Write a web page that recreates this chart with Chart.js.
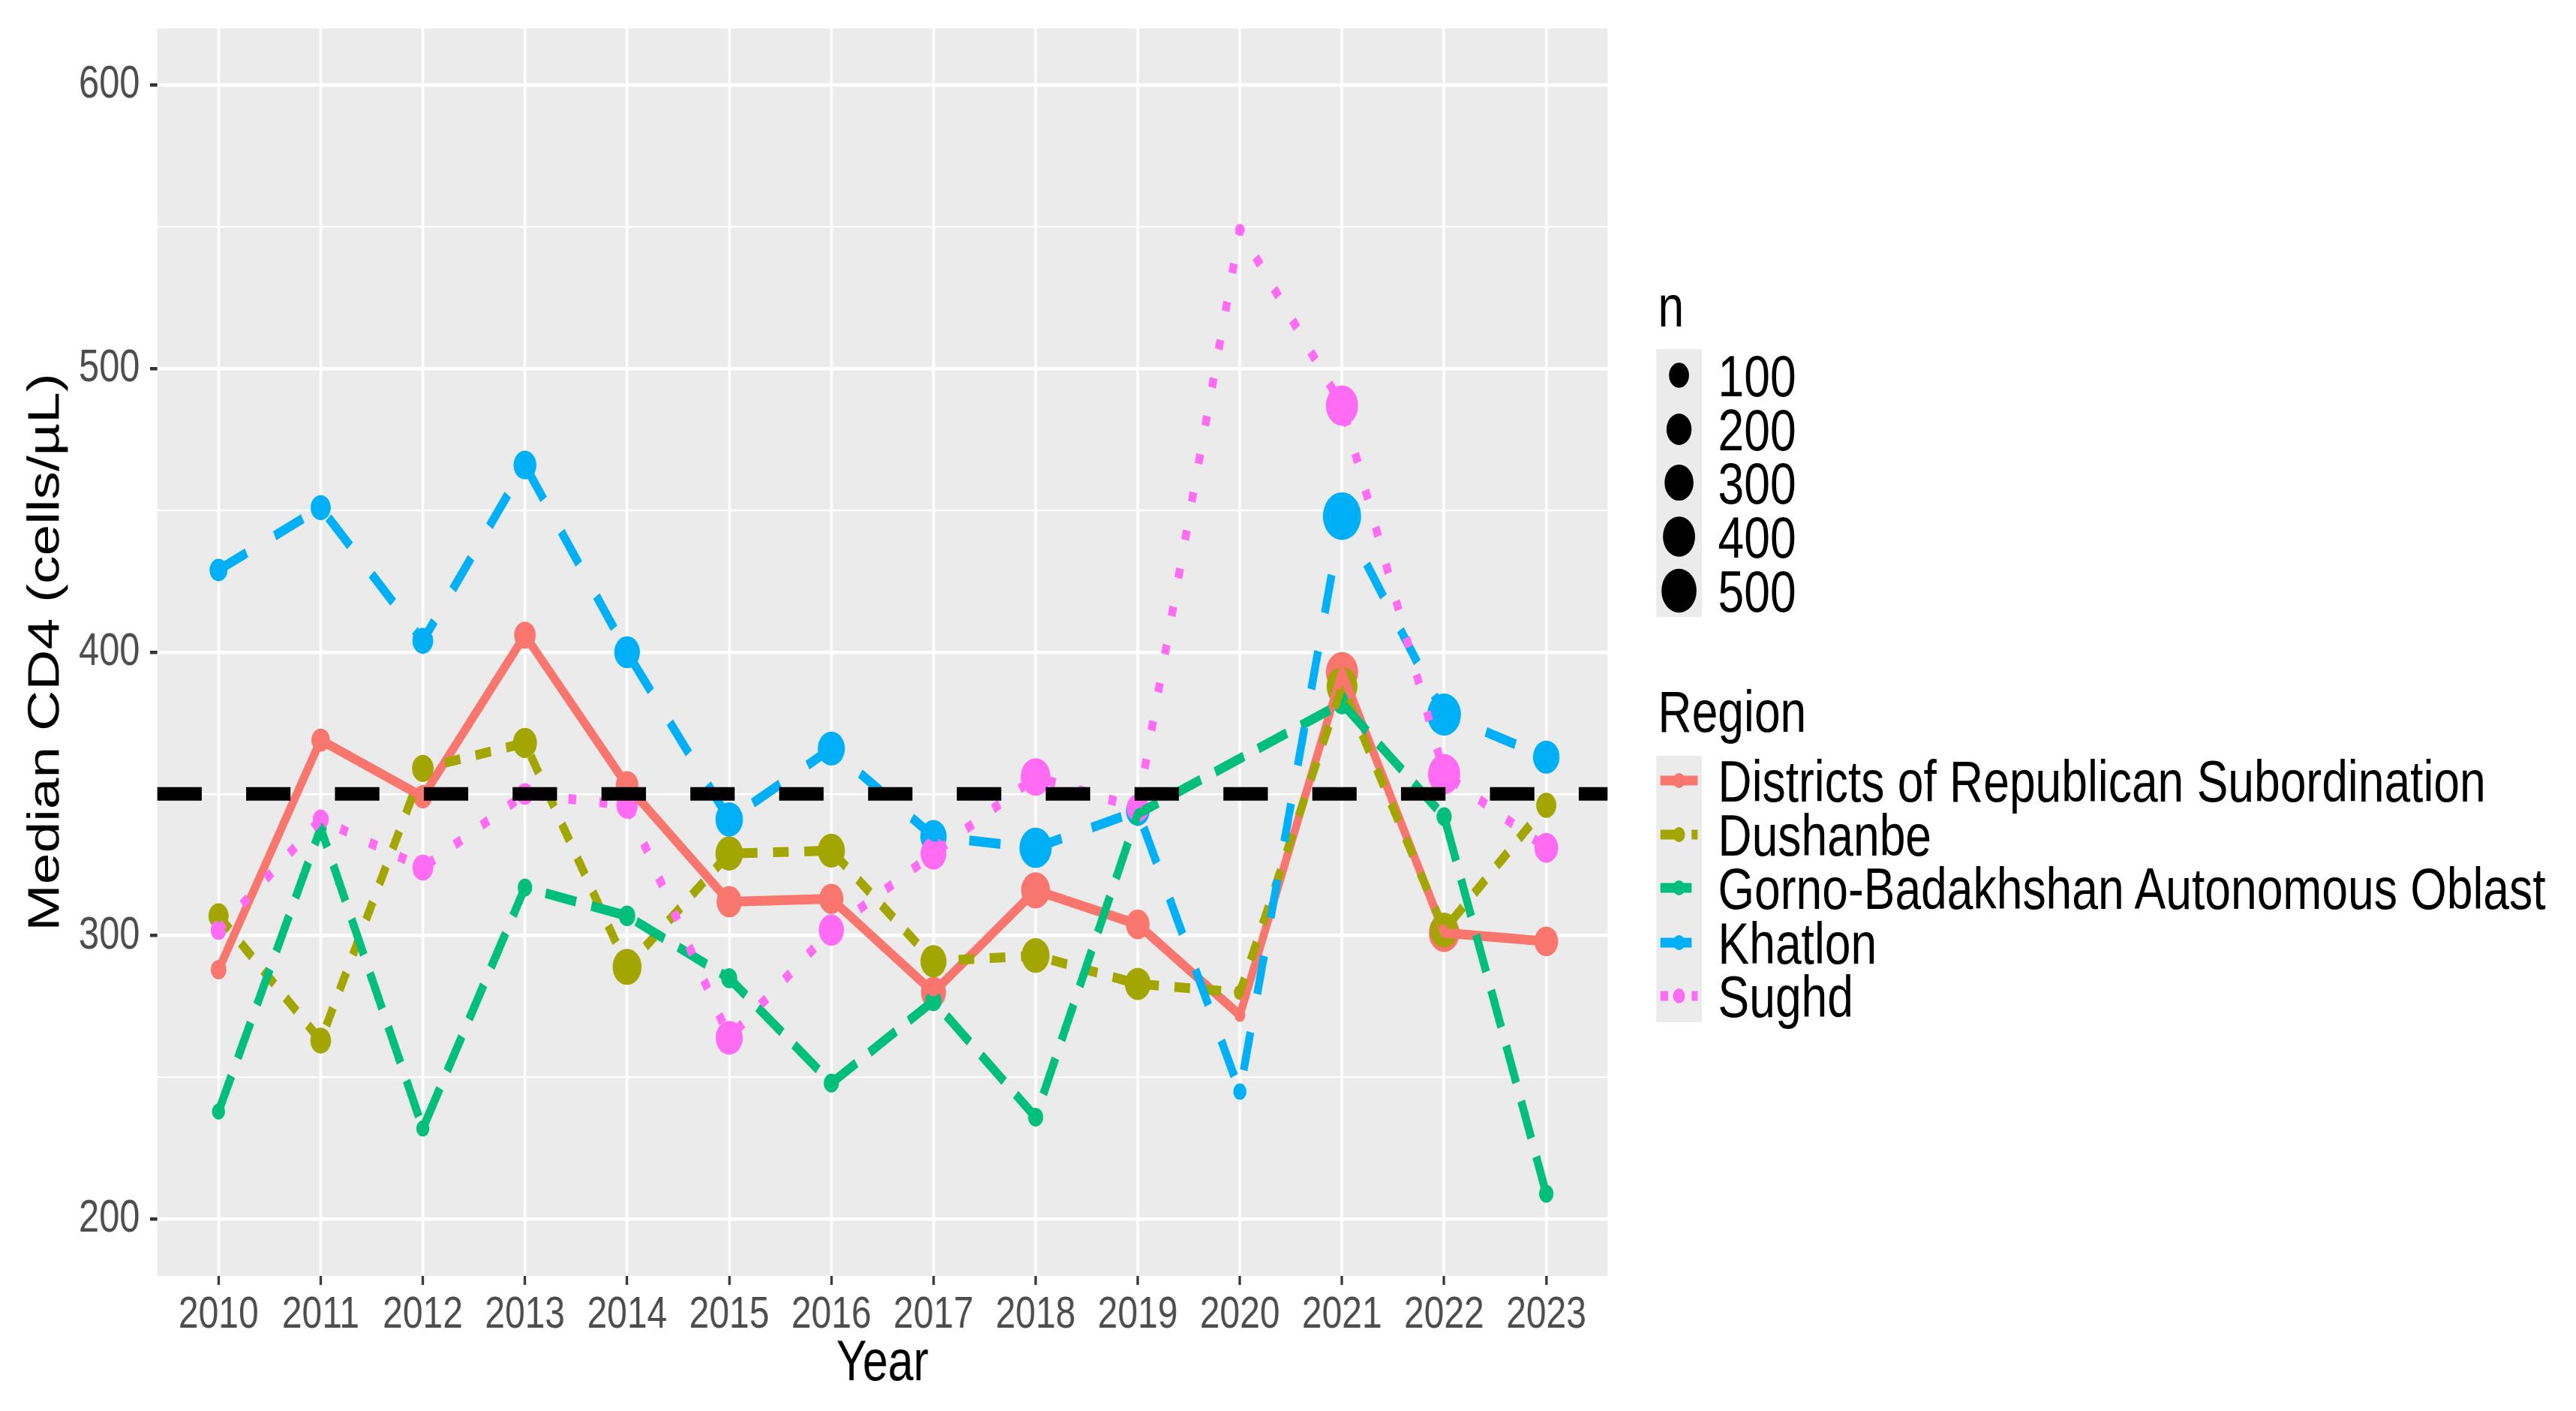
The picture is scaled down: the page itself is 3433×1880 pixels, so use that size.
<!DOCTYPE html>
<html>
<head>
<meta charset="utf-8">
<script src="https://cdn.jsdelivr.net/npm/chart.js@4.4.1/dist/chart.umd.min.js"></script>
<style>
  html, body { margin: 0; padding: 0; background: #fff; overflow: hidden; }
  /* the reference figure is horizontally squeezed, so draw wide and squeeze */
  #stage { position: absolute; left: 0; top: 0; width: 4291px; height: 1880px;
           transform: scaleX(0.8); transform-origin: 0 0; }
  #plot { position: absolute; left: 0; top: 0; }
  #legend { position: absolute; left: 0; top: 0; }
</style>
</head>
<body>
<div id="stage">
  <canvas id="plot" width="2700" height="1880"></canvas>
  <svg id="legend" width="4291" height="1880" xmlns="http://www.w3.org/2000/svg"></svg>
</div>
<script>
// data
const years = [2010, 2011, 2012, 2013, 2014, 2015, 2016, 2017, 2018, 2019, 2020, 2021, 2022, 2023];
const regions = ['Districts of Republican Subordination', 'Dushanbe', 'Gorno-Badakhshan Autonomous Oblast', 'Khatlon', 'Sughd'];

// median CD4 (cells/µL)
const districtsCD4 = [288, 369, 349, 406, 353, 312, 313, 280, 316, 304, 272, 393, 301, 298];
const dushanbeCD4  = [307, 263, 359, 368, 289, 329, 330, 291, 293, 283, 280, 388, 302, 346];
const gbaoCD4      = [238, 338, 232, 317, 307, 285, 248, 277, 236, 343, null, 382, 342, 209];
const khatlonCD4   = [429, 451, 404, 466, 400, 341, 366, 335, 331, 344, 245, 448, 378, 363];
const sughdCD4     = [302, 341, 324, 350, 346, 264, 302, 329, 356, 345, 549, 487, 357, 331];

// n (number of patients), shown as point size
const districtsN = [40, 76, 78, 128, 150, 200, 180, 200, 300, 170, 6, 400, 350, 170];
const dushanbeN  = [100, 110, 128, 177, 300, 260, 250, 220, 270, 216, 12, 355, 270, 100];
const gbaoN      = [17, 12, 17, 28, 50, 45, 35, 50, 35, 35, null, 68, 35, 28];
const khatlonN   = [68, 100, 112, 153, 213, 260, 250, 230, 400, 170, 18, 620, 450, 234];
const sughdN     = [42, 45, 112, 58, 125, 250, 200, 216, 330, 140, 2, 400, 400, 170];

const sizeBreaks = [100, 200, 300, 400, 500];
const threshold = 350;

// styles
const colors = ['#F8766D', '#A3A500', '#00BF7D', '#00B0F6', '#FF6BF3'];
const dashes = [[], [26, 26], [52, 26], [52, 52], [13, 39]];
const FONT = "'Liberation Sans', Arial, Helvetica, sans-serif";
const sizeOf = n => 6.6 + 1.01 * Math.sqrt(n);

const series = [districtsCD4, dushanbeCD4, gbaoCD4, khatlonCD4, sughdCD4];
const counts = [districtsN, dushanbeN, gbaoN, khatlonN, sughdN];
const toXY = vals => years.map((yr, i) => ({ x: yr, y: vals[i] }));

const datasets = [];
series.forEach((vals, i) => {
  // points first (underneath), red at bottom, pink on top
  datasets.push({
    label: regions[i] + ' n',
    data: toXY(vals),
    showLine: false,
    pointRadius: ctx => sizeOf(counts[i][ctx.dataIndex] || 0),
    pointHoverRadius: ctx => sizeOf(counts[i][ctx.dataIndex] || 0),
    pointBackgroundColor: colors[i],
    pointBorderWidth: 0,
    order: 19 - i
  });
  datasets.push({
    label: regions[i],
    data: toXY(vals),
    borderColor: colors[i],
    borderWidth: 13,
    borderDash: dashes[i],
    borderJoinStyle: 'round',
    pointRadius: 0,
    pointHoverRadius: 0,
    spanGaps: true,
    fill: false,
    order: 9 - i
  });
});

const panelBg = {
  id: 'panelBg',
  beforeDraw(chart) {
    const { ctx, chartArea: a } = chart;
    ctx.save();
    ctx.fillStyle = '#ebebeb';
    ctx.fillRect(a.left, a.top, a.right - a.left, a.bottom - a.top);
    ctx.restore();
  }
};

const refLine = {
  id: 'refLine',
  afterDatasetsDraw(chart) {
    const { ctx, chartArea: a, scales } = chart;
    const yy = scales.y.getPixelForValue(threshold);
    ctx.save();
    ctx.strokeStyle = '#000';
    ctx.lineWidth = 18;
    ctx.setLineDash([74, 74]);
    ctx.beginPath();
    ctx.moveTo(a.left, yy);
    ctx.lineTo(a.right, yy);
    ctx.stroke();
    ctx.restore();
  }
};

Chart.defaults.font.family = FONT;

new Chart(document.getElementById('plot'), {
  type: 'line',
  data: { datasets },
  options: {
    responsive: false,
    animation: false,
    devicePixelRatio: 1,
    events: [],
    layout: { padding: { top: 38, right: 15, left: 0, bottom: 0 } },
    plugins: { legend: { display: false }, tooltip: { enabled: false } },
    scales: {
      x: {
        type: 'linear',
        min: 2009.4,
        max: 2023.6,
        afterFit: s => { s.height = 180; s.paddingLeft = 0; s.paddingRight = 0; },
        border: { display: false },
        grid: { color: '#ffffff', lineWidth: 4.5, tickLength: 12, tickWidth: 4, tickColor: '#333333' },
        ticks: {
          stepSize: 1, includeBounds: false, maxTicksLimit: 30, autoSkip: false, maxRotation: 0,
          padding: 4, color: '#4d4d4d', font: { size: 60 },
          callback: v => String(v)
        },
        title: { display: true, text: 'Year', color: '#000', font: { size: 76 }, padding: { top: 0, bottom: 16 } }
      },
      y: {
        type: 'linear',
        min: 180,
        max: 620,
        afterFit: s => { s.width = 262; s.paddingTop = 0; s.paddingBottom = 0; },
        border: { display: false },
        grid: {
          color: '#ffffff',
          lineWidth: ctx => (ctx.tick && ctx.tick.value % 100 === 0 ? 4.5 : 2.3),
          tickLength: 12,
          tickWidth: 4.5,
          tickColor: ctx => (ctx.tick && ctx.tick.value % 100 === 0 ? '#333333' : 'rgba(0,0,0,0)')
        },
        ticks: {
          stepSize: 50, includeBounds: false, maxTicksLimit: 20,
          padding: 17, color: '#4d4d4d', font: { size: 61 },
          callback: v => (v % 100 === 0 ? String(v) : '')
        },
        title: { display: true, text: 'Median CD4 (cells/µL)', color: '#000', font: { size: 75 }, padding: { top: 32, bottom: 0 } }
      }
    }
  },
  plugins: [panelBg, refLine]
});

// legends (drawn in svg, same squeezed stage)
const svg = document.getElementById('legend');
const NS = 'http://www.w3.org/2000/svg';
function add(tag, attrs, text) {
  const e = document.createElementNS(NS, tag);
  for (const k in attrs) e.setAttribute(k, attrs[k]);
  if (text !== undefined) e.textContent = text;
  svg.appendChild(e);
  return e;
}
const LX = 2762, KEYX = 2759, KEYW = 76, CX = 2797, TX = 2862, LFS = 78;

// size legend
add('text', { x: LX, y: 435, 'font-family': FONT, 'font-size': LFS, fill: '#000' }, 'n');
add('rect', { x: KEYX, y: 465, width: KEYW, height: 357, fill: '#ebebeb' });
const sizeY = [500, 572, 643, 715, 787];
sizeBreaks.forEach((b, i) => {
  add('circle', { cx: CX, cy: sizeY[i], r: sizeOf(b), fill: '#000' });
  add('text', { x: TX, y: sizeY[i] + 28, 'font-family': FONT, 'font-size': LFS, fill: '#000' }, String(b));
});

// region legend
add('text', { x: LX, y: 975, 'font-family': FONT, 'font-size': LFS, fill: '#000' }, 'Region');
add('rect', { x: KEYX, y: 1007, width: KEYW, height: 355, fill: '#ebebeb' });
const keyY = [1040, 1112, 1183, 1256, 1327];
regions.forEach((r, i) => {
  const line = { x1: 2766, x2: 2828, y1: keyY[i], y2: keyY[i], stroke: colors[i], 'stroke-width': 13, 'stroke-linecap': 'butt' };
  if (dashes[i].length) line['stroke-dasharray'] = dashes[i].join(' ');
  add('line', line);
  add('circle', { cx: CX, cy: keyY[i], r: 10, fill: colors[i] });
  add('text', { x: TX, y: keyY[i] + 28, 'font-family': FONT, 'font-size': LFS, fill: '#000' }, r);
});
</script>
</body>
</html>
